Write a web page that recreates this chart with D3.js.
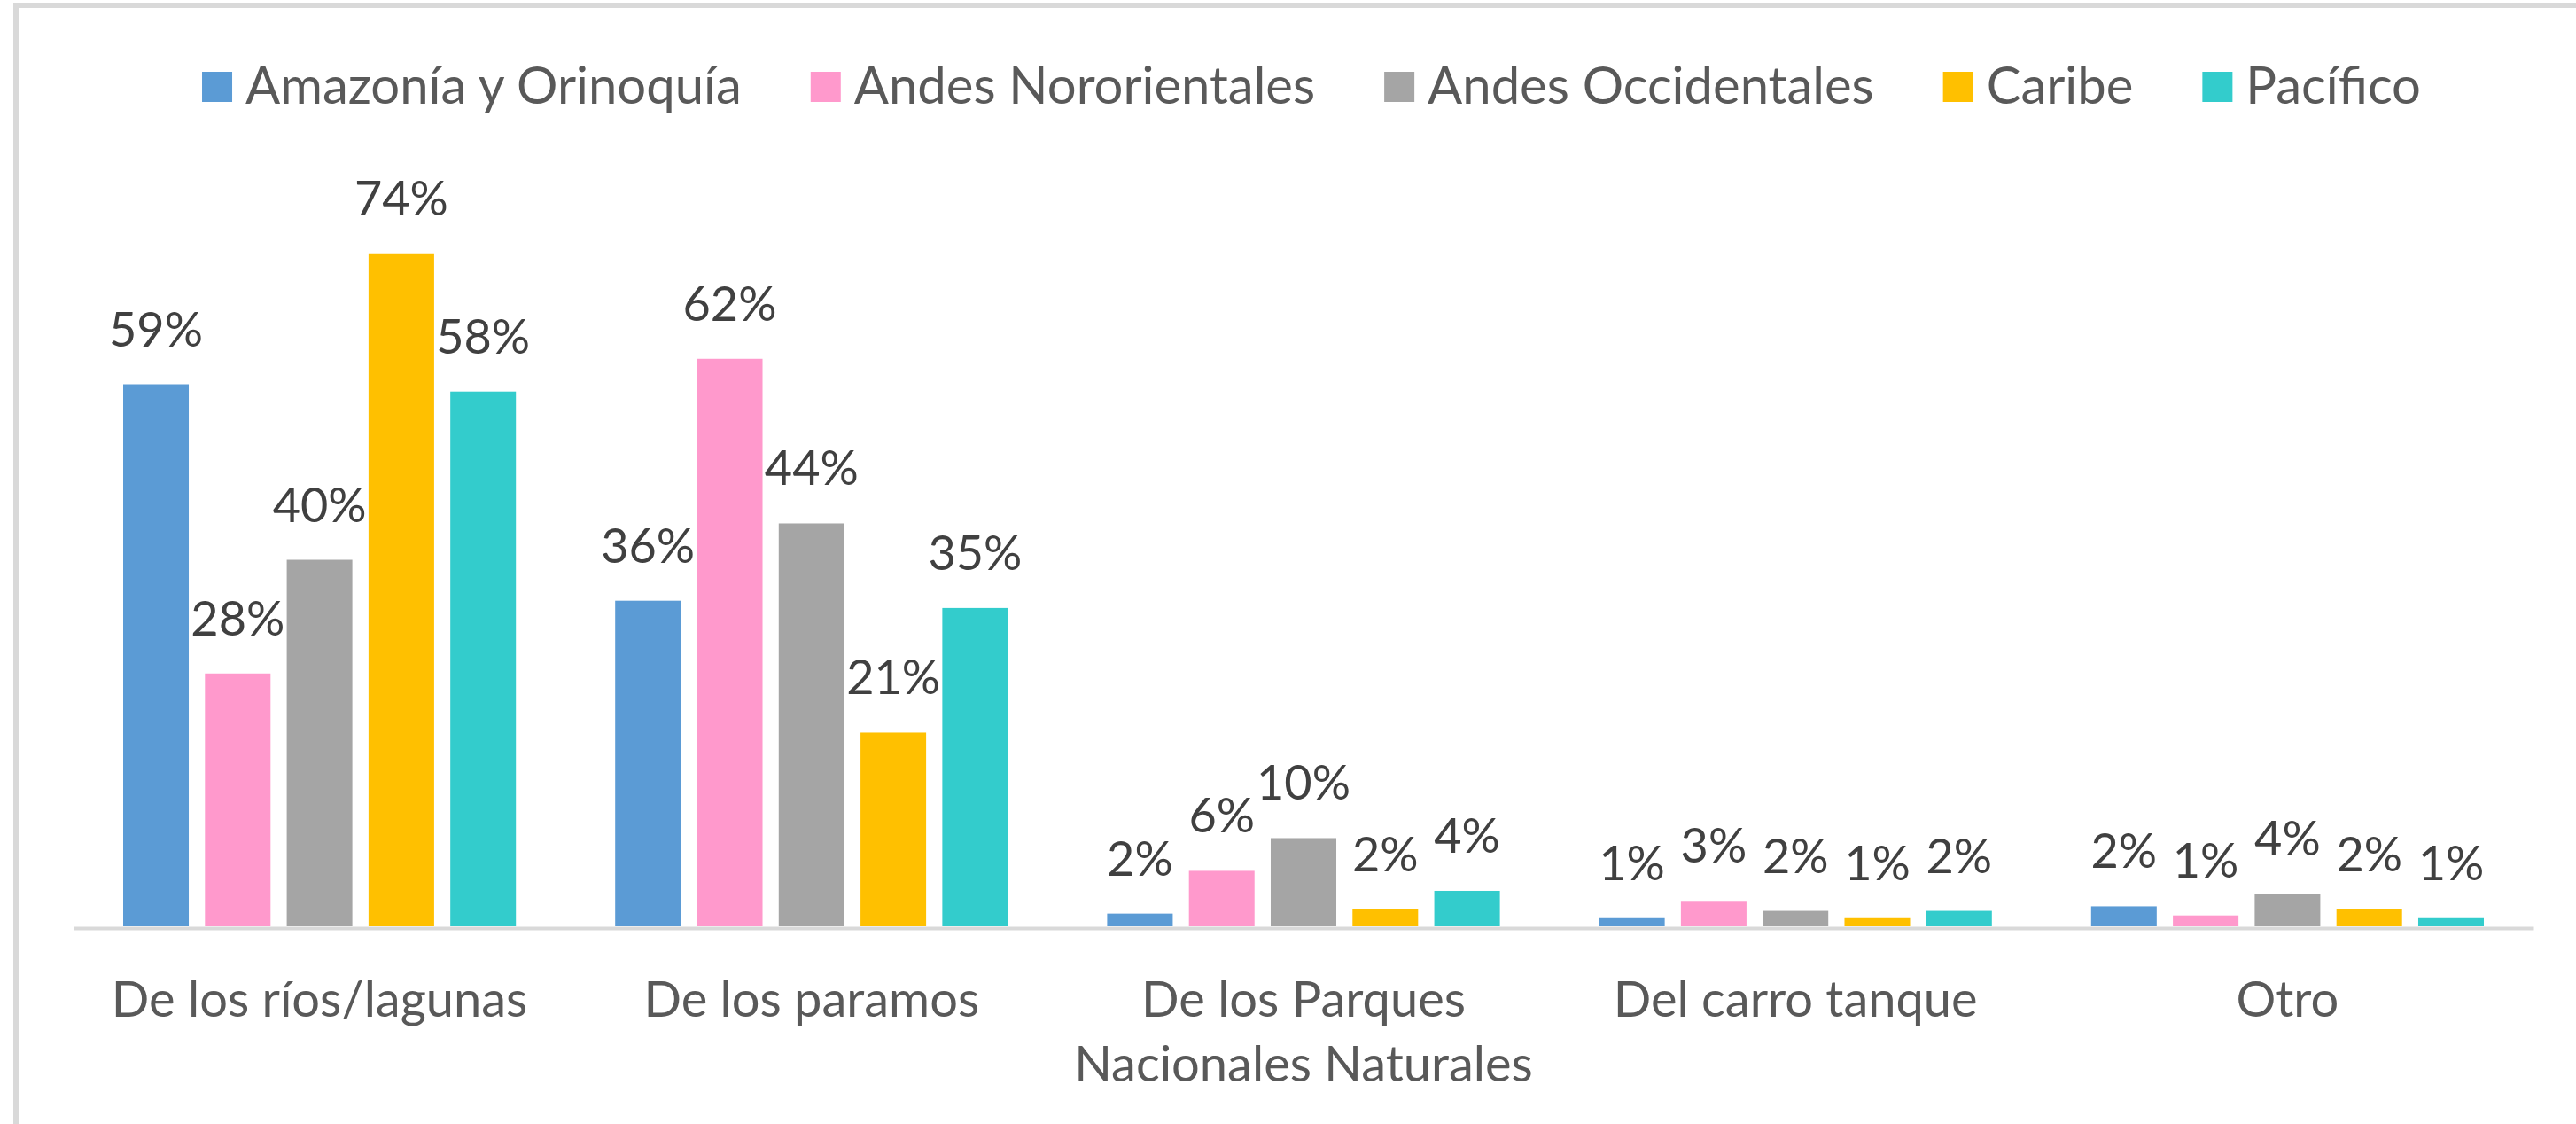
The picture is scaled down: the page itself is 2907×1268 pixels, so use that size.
<!DOCTYPE html>
<html>
<head>
<meta charset="utf-8">
<style>
  body { margin: 0; background: #fff; }
  svg text { font-family: Lato, "Open Sans", sans-serif; }
</style>
</head>
<body>
<svg width="2907" height="1268"></svg>
<script src="https://d3js.org/d3.v7.min.js"></script>
<script>
// categories (x axis), multi-line labels split on "\n"
var categories = ["De los ríos/lagunas", "De los paramos", "De los Parques\nNacionales Naturales", "Del carro tanque", "Otro"];
var seriesNames = ["Amazonía y Orinoquía", "Andes Nororientales", "Andes Occidentales", "Caribe", "Pacífico"];
var colors = ["#5B9BD5", "#FF99CC", "#A5A5A5", "#FFC000", "#33CCCC"];

// bar heights (%), one array per series, in category order
var amazonia   = [59.6, 35.8, 1.4, 0.9, 2.2];
var nororient  = [27.8, 62.4, 6.1, 2.8, 1.2];
var occident   = [40.3, 44.3, 9.7, 1.7, 3.6];
var caribe     = [74.0, 21.3, 1.9, 0.9, 1.9];
var pacifico   = [58.8, 35.0, 3.9, 1.7, 0.9];

// data labels as printed on the chart
var amazoniaLbl  = ["59%", "36%", "2%", "1%", "2%"];
var nororientLbl = ["28%", "62%", "6%", "3%", "1%"];
var occidentLbl  = ["40%", "44%", "10%", "2%", "4%"];
var caribeLbl    = ["74%", "21%", "2%", "1%", "2%"];
var pacificoLbl  = ["58%", "35%", "4%", "2%", "1%"];

var values = [amazonia, nororient, occident, caribe, pacifico];
var labels = [amazoniaLbl, nororientLbl, occidentLbl, caribeLbl, pacificoLbl];

var svg = d3.select("svg");

// chart frame (right/bottom edges run off the picture)
svg.append("rect")
    .attr("x", 18).attr("y", 6)
    .attr("width", 3000).attr("height", 1400)
    .attr("fill", "#fff")
    .attr("stroke", "#D9D9D9")
    .attr("stroke-width", 6);

var base = 1045;

var x0 = d3.scaleBand()
    .domain(categories)
    .range([83, 2859])
    .padding(0);

var x1 = d3.scaleBand()
    .domain(seriesNames)
    .range([56, x0.bandwidth() - 56])
    .paddingInner(0.198)
    .paddingOuter(0);

var y = d3.scaleLinear()
    .domain([0, 80])
    .range([base, base - 80 * 10.26]);

var rows = [];
categories.forEach(function (c, ci) {
    seriesNames.forEach(function (s, si) {
        rows.push({ cat: c, series: s, si: si, value: values[si][ci], label: labels[si][ci] });
    });
});

var g = svg.append("g");

g.selectAll("rect.bar")
    .data(rows)
    .enter().append("rect")
    .attr("class", "bar")
    .attr("x", function (d) { return x0(d.cat) + x1(d.series); })
    .attr("y", function (d) { return y(d.value); })
    .attr("width", x1.bandwidth())
    .attr("height", function (d) { return base - y(d.value); })
    .attr("fill", function (d) { return colors[d.si]; });

g.selectAll("text.lbl")
    .data(rows)
    .enter().append("text")
    .attr("class", "lbl")
    .attr("x", function (d) { return x0(d.cat) + x1(d.series) + x1.bandwidth() / 2; })
    .attr("y", function (d) { return y(d.value) - 43; })
    .attr("text-anchor", "middle")
    .attr("font-size", 54)
    .attr("fill", "#404040")
    .text(function (d) { return d.label; });

// x axis
var xAxis = svg.append("g")
    .attr("transform", "translate(0," + (base + 2) + ")")
    .call(d3.axisBottom(x0).tickSize(0).tickFormat(""));
xAxis.select(".domain").attr("stroke", "#D9D9D9").attr("stroke-width", 4);

var catText = xAxis.selectAll(".tick text")
    .attr("font-size", 56)
    .attr("fill", "#595959")
    .attr("y", 100)
    .attr("dy", 0);
catText.each(function (d) {
    var t = d3.select(this);
    d.split("\n").forEach(function (line, i) {
        t.append("tspan").attr("x", 0).attr("dy", i === 0 ? 0 : 73).text(line);
    });
});

// legend
var legend = svg.append("g");
var items = legend.selectAll("g")
    .data(seriesNames)
    .enter().append("g");
items.append("rect")
    .attr("width", 34).attr("height", 34)
    .attr("y", 81)
    .attr("fill", function (d, i) { return colors[i]; });
items.append("text")
    .attr("x", 49)
    .attr("y", 117)
    .attr("font-size", 58)
    .attr("fill", "#595959")
    .text(function (d) { return d; });

var offs = 0, pos = [];
items.each(function () {
    pos.push(offs);
    offs += 49 + d3.select(this).select("text").node().getComputedTextLength() + 78;
});
var total = offs - 78;
var start = 1480 - total / 2;
items.attr("transform", function (d, i) { return "translate(" + (start + pos[i]) + ",0)"; });
</script>
</body>
</html>
